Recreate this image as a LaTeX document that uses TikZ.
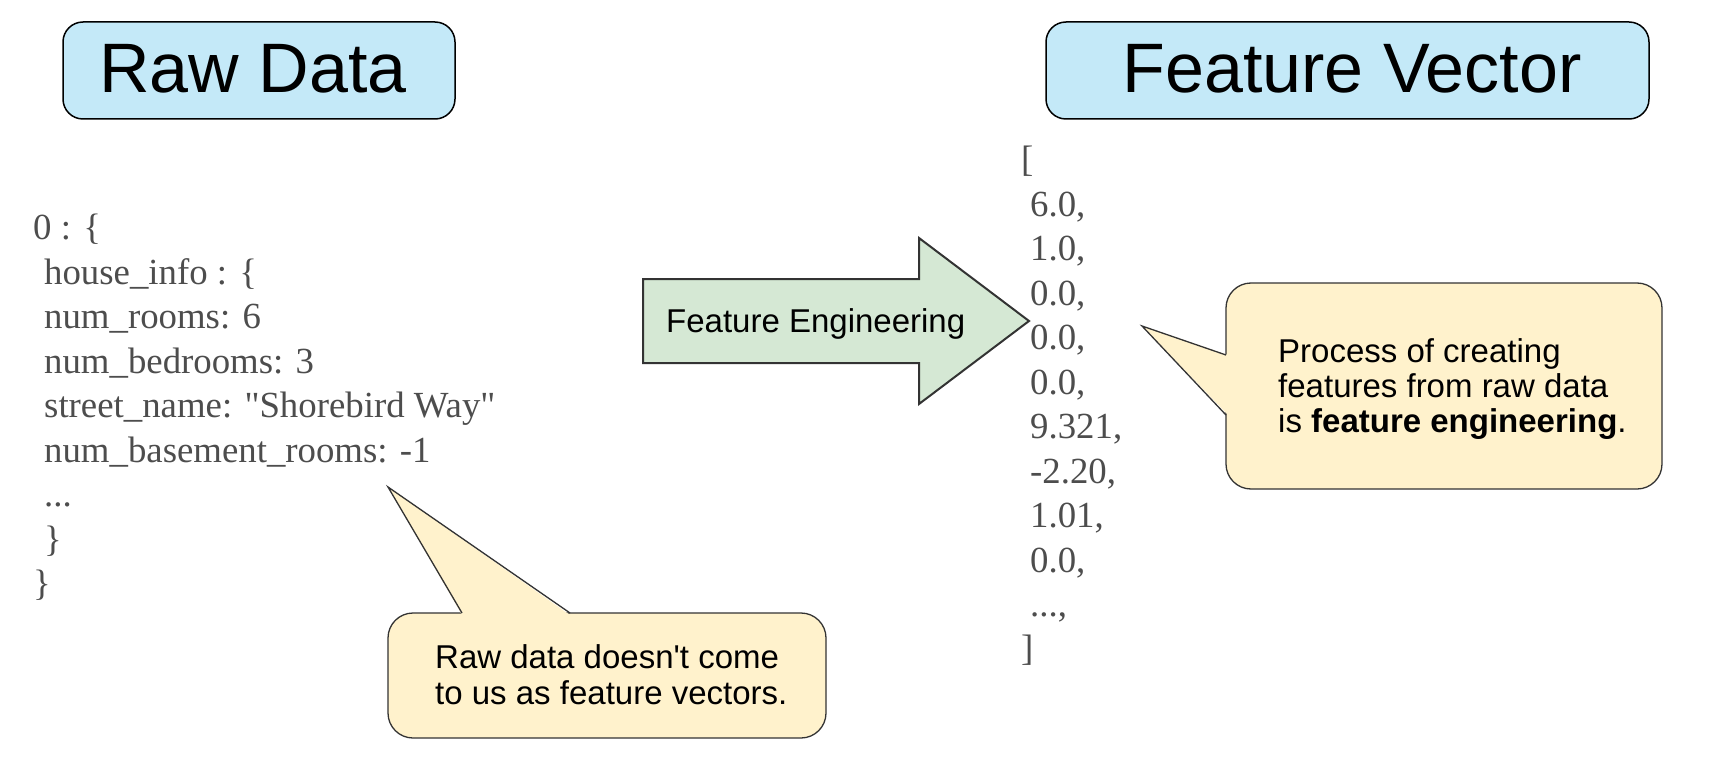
\documentclass[tikz,border=0pt]{standalone}
\usepackage{fontspec}
\setmainfont{Liberation Sans}
\newfontfamily\codefont{Liberation Serif}
\definecolor{titleblue}{HTML}{C4E9F8}
\definecolor{noteyellow}{HTML}{FFF2CC}
\definecolor{arrowgreen}{HTML}{D5E8D4}
\definecolor{codegray}{HTML}{4D4D4D}
\definecolor{edgegray}{HTML}{333333}
\begin{document}
\begin{tikzpicture}[x=1pt,y=1pt,
  titlebox/.style={draw=black, line width=1.5pt, fill=titleblue, rounded corners=20pt},
  titletext/.style={font=\fontsize{70}{84}\selectfont, anchor=base, inner sep=0pt},
  code/.style={font=\codefont\fontsize{36.8}{44}\selectfont, text=codegray, anchor=base west, inner sep=0pt},
  notebox/.style={draw=edgegray, line width=1.3pt, fill=noteyellow, rounded corners=25pt},
  notetext/.style={font=\fontsize{33}{36}\selectfont, anchor=base west, inner sep=0pt},
  bigarrow/.style={draw=edgegray, line width=2pt, fill=arrowgreen, line join=miter},
]
\useasboundingbox (0,0) rectangle (1722,-778);

% title boxes
\draw[titlebox] (63,-22) rectangle (455,-119);
\node[titletext] (rawtitle) at (253,-93) {Raw Data};
\draw[titlebox] (1046,-22) rectangle (1649,-119);
\node[titletext] (fvtitle) at (1352,-93) {Feature Vector};

% raw data code
\node[code] (c0) at (33,-240) {0 : \{};
\node[code] (c1) at (44,-284.45) {house\_info : \{};
\node[code] (c2) at (44,-328.9) {num\_rooms: 6};
\node[code] (c3) at (44,-373.35) {num\_bedrooms: 3};
\node[code] (c4) at (44,-417.8) {street\_name: "Shorebird Way"};
\node[code] (c5) at (44,-462.25) {num\_basement\_rooms: -1};
\node[code] (c6) at (44,-506.7) {...};
\node[code] (c7) at (44,-551.15) {\}};
\node[code] (c8) at (33,-595.6) {\}};

% feature vector
\node[code] (v0) at (1021,-172) {[};
\node[code] (v1) at (1030,-216.45) {6.0,};
\node[code] (v2) at (1030,-260.9) {1.0,};
\node[code] (v3) at (1030,-305.35) {0.0,};
\node[code] (v4) at (1030,-349.8) {0.0,};
\node[code] (v5) at (1030,-394.25) {0.0,};
\node[code] (v6) at (1030,-438.7) {9.321,};
\node[code] (v7) at (1030,-483.15) {-2.20,};
\node[code] (v8) at (1030,-527.6) {1.01,};
\node[code] (v9) at (1030,-572.05) {0.0,};
\node[code] (v10) at (1030,-616.5) {...,};
\node[code] (v11) at (1021,-660.95) {]};

% big arrow
\draw[bigarrow] (643,-279) -- (919,-279) -- (919,-238) -- (1029,-321)
  -- (919,-404) -- (919,-363) -- (643,-363) -- cycle;
\node[notetext] (fe) at (666,-332) {Feature Engineering};

% callout 1
\draw[notebox] (388,-613) rectangle (826,-738);
\fill[noteyellow] (462,-615) -- (388,-487) -- (570,-615) -- cycle;
\draw[draw=edgegray, line width=1.3pt, line join=miter] (462,-613) -- (388,-487) -- (570,-613);
\node[notetext] (n1a) at (435,-668) {Raw data doesn\textquotesingle t come};
\node[notetext] (n1b) at (435,-704) {to us as feature vectors.};

% callout 2
\draw[notebox] (1226,-283) rectangle (1662,-489);
\fill[noteyellow] (1228,-355) -- (1142,-326) -- (1228,-415) -- cycle;
\draw[draw=edgegray, line width=1.3pt, line join=miter] (1226,-355) -- (1142,-326) -- (1226,-415);
\node[notetext] (n2a) at (1278,-362.5) {Process of creating};
\node[notetext] (n2b) at (1278,-397.5) {features from raw data};
\node[notetext] (n2c) at (1278,-432.5) {is \textbf{feature engineering}.};
\end{tikzpicture}
\end{document}
